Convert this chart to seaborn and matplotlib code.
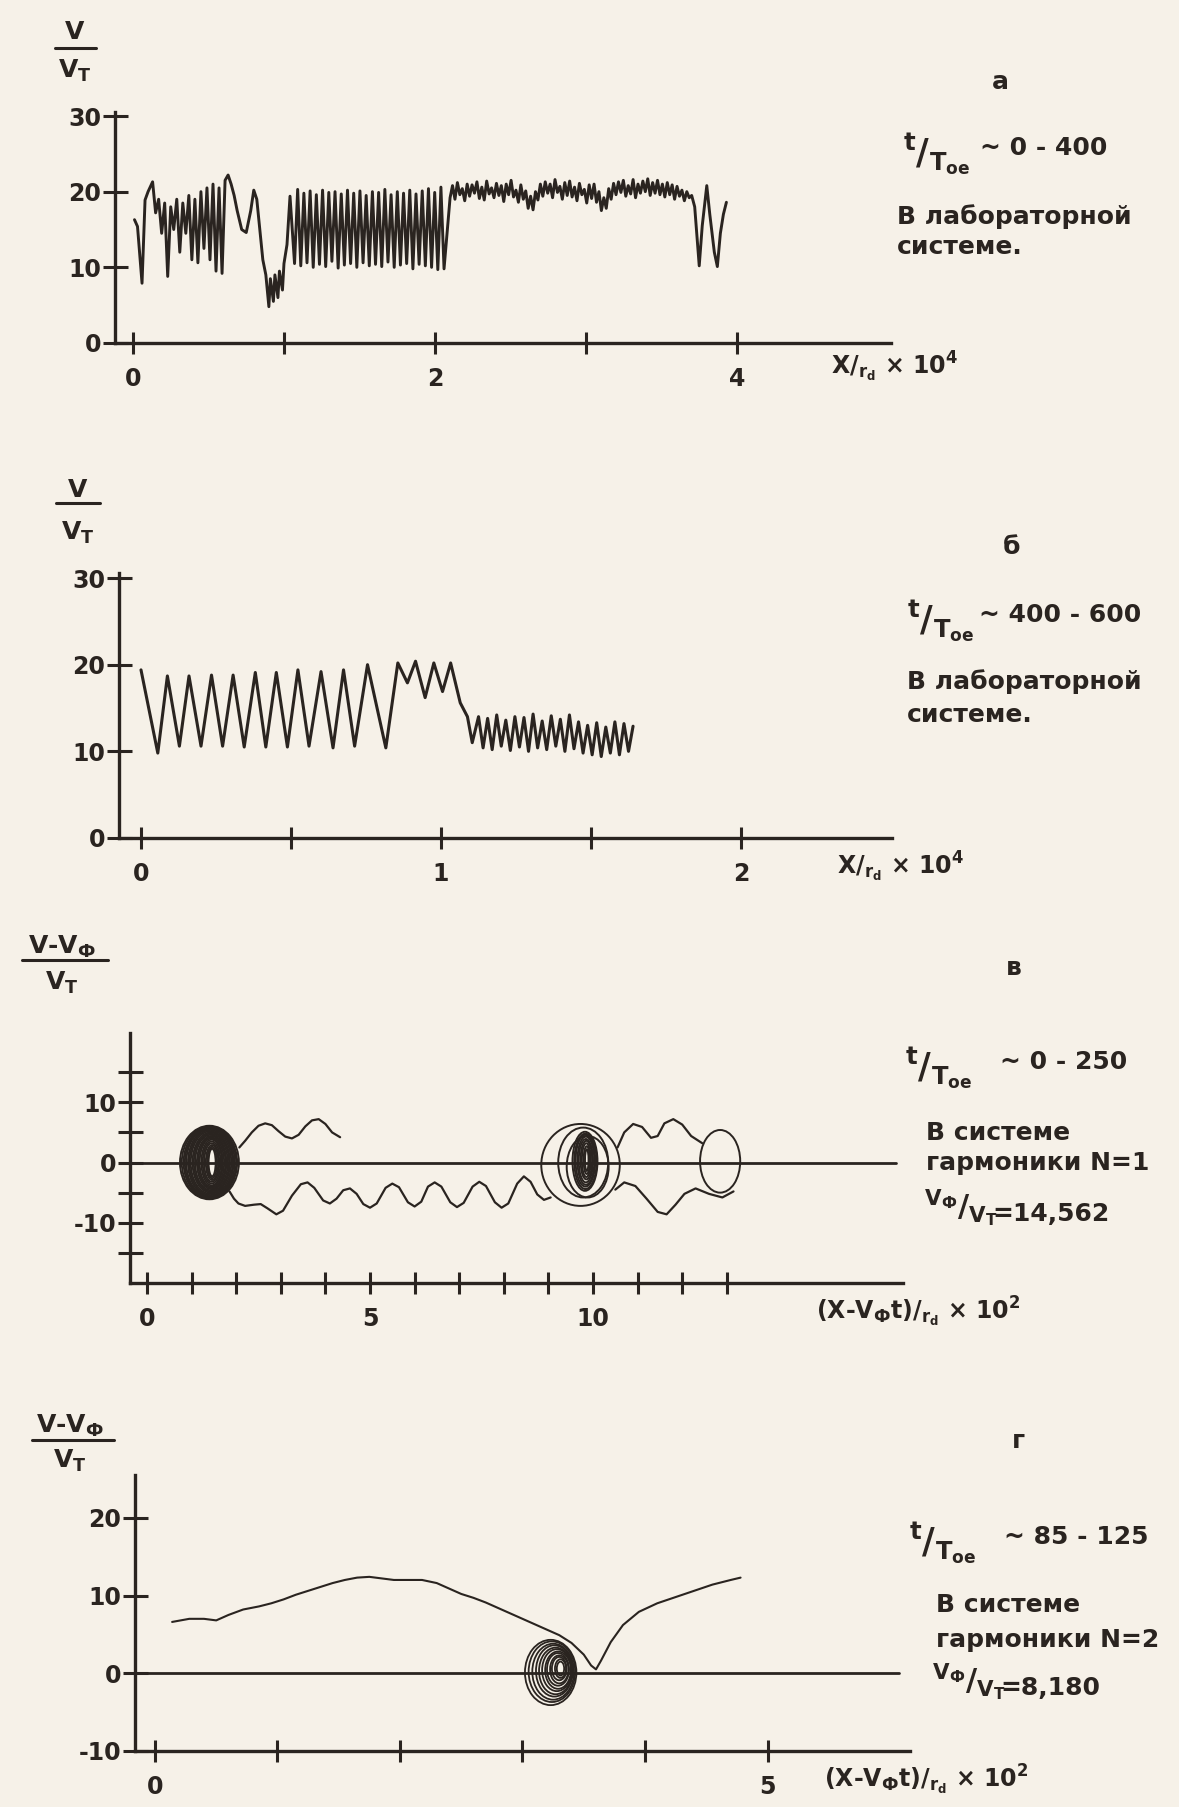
import numpy as np
import matplotlib
matplotlib.use("Agg")
import matplotlib.pyplot as plt
from matplotlib.patches import Ellipse
from matplotlib.lines import Line2D
import seaborn as sns

# ------------------------------------------------------------------
# Panel а : V/VT along X/rd (x10^4), laboratory frame, t/Toe ~ 0-400
# ------------------------------------------------------------------
a_head_x = [0.01, 0.03, 0.06, 0.08, 0.10, 0.13, 0.15, 0.17, 0.19, 0.21, 0.23, 0.25,
            0.27, 0.29, 0.31, 0.33, 0.35, 0.37, 0.39, 0.41, 0.43, 0.45, 0.47, 0.49,
            0.51, 0.53, 0.55, 0.57, 0.59, 0.61, 0.63, 0.65, 0.67, 0.69, 0.72, 0.75,
            0.78, 0.80, 0.82, 0.84, 0.86, 0.88, 0.90, 0.91, 0.93, 0.94, 0.96, 0.97,
            0.99, 1.00, 1.02, 1.04]
a_head_y = [16.3, 15.4, 7.9, 18.9, 20.0, 21.3, 17.2, 19.0, 14.5, 18.5, 8.8, 18.0,
            15.0, 19.0, 12.0, 18.5, 14.5, 19.5, 11.0, 19.0, 10.6, 20.0, 12.5, 20.5,
            11.0, 21.0, 9.5, 20.5, 9.2, 21.5, 22.2, 21.0, 19.5, 17.5, 15.0, 14.6,
            17.5, 20.2, 19.0, 15.0, 11.0, 9.0, 4.8, 8.5, 5.5, 9.0, 6.0, 9.5,
            7.0, 10.5, 13.0, 19.4]
# regular oscillation stretch, evenly sampled between 1.07 and 2.06
a_mid_y = [10.5, 20.3, 10.2, 19.8, 10.6, 20.1, 10.0, 19.6, 10.4, 20.2, 10.1, 19.9,
           10.8, 20.0, 9.9, 19.7, 10.3, 20.2, 10.5, 19.8, 10.0, 20.1, 10.6, 19.5,
           10.2, 20.0, 10.4, 19.9, 10.1, 20.3, 10.7, 19.6, 10.0, 20.0, 10.3, 19.8,
           10.5, 20.2, 9.8, 19.7, 10.4, 20.1, 10.2, 20.4, 10.0, 19.9, 9.7, 20.6, 9.8]
# noisy plateau, evenly sampled between 2.10 and 3.70
a_band_y = [19.2, 20.8, 19.0, 21.2, 19.6, 20.4, 18.8, 21.0, 19.4, 20.9,
            19.8, 21.3, 19.1, 20.6, 18.9, 21.4, 19.7, 20.5, 19.2, 21.1,
            19.5, 20.8, 18.7, 21.0, 19.6, 21.5, 19.3, 20.2, 18.6, 20.9,
            19.0, 20.1, 17.8, 19.4, 17.6, 20.0, 18.9, 21.0, 19.4, 21.3,
            19.8, 21.0, 19.2, 21.6, 19.9, 20.7, 19.0, 21.2, 19.5, 21.4,
            19.3, 20.6, 18.8, 21.1, 19.6, 20.3, 18.5, 20.9, 19.1, 21.0,
            18.6, 20.0, 17.5, 19.2, 17.8, 20.4, 19.0, 21.1, 19.6, 21.3,
            19.9, 21.5, 19.4, 20.8, 19.7, 21.6, 19.2, 21.0, 19.8, 21.4,
            20.0, 21.7, 19.5, 21.2, 19.8, 21.5, 19.6, 21.0, 19.3, 21.2,
            19.6, 20.9, 19.0, 20.7, 19.4, 20.2, 18.8, 20.0, 19.2, 19.5]
a_tail_x = [3.72, 3.75, 3.77, 3.80, 3.82, 3.85, 3.87, 3.89, 3.91, 3.93]
a_tail_y = [18.0, 10.2, 15.5, 20.8, 17.0, 12.0, 10.1, 14.5, 17.0, 18.6]

# ------------------------------------------------------------------
# Panel б : V/VT along X/rd (x10^4), t/Toe ~ 400-600
# ------------------------------------------------------------------
b_wave_x = [0.0, 0.056, 0.088, 0.128, 0.16, 0.2, 0.235, 0.272, 0.307, 0.344, 0.381,
            0.416, 0.451, 0.488, 0.523, 0.56, 0.6, 0.64, 0.675, 0.712, 0.755, 0.816,
            0.856, 0.888, 0.915, 0.947, 0.976, 1.005, 1.032, 1.064, 1.088, 1.104]
b_wave_y = [19.4, 9.8, 18.7, 10.6, 18.7, 10.6, 18.8, 10.6, 18.8, 10.5, 19.1,
            10.5, 19.1, 10.5, 19.4, 10.6, 19.2, 10.4, 19.4, 10.6, 20.0, 10.4,
            20.2, 17.9, 20.4, 16.2, 20.2, 16.9, 20.2, 15.6, 14.0, 11.0]
# small ripples, evenly sampled between 1.125 and 1.64
b_tail_y = [14.0, 10.4, 13.8, 10.2, 14.2, 10.6, 13.6, 10.1, 14.0, 10.5, 13.9, 10.0,
            14.3, 10.4, 13.5, 10.2, 14.1, 10.6, 13.7, 10.0, 14.2, 10.3, 13.4, 9.8,
            13.0, 9.6, 13.3, 9.4, 12.8, 9.8, 13.4, 9.6, 13.2, 10.0, 12.9]

# ------------------------------------------------------------------
# Panel в : phase plane of harmonic N=1, t/Toe ~ 0-250
# ------------------------------------------------------------------
v_up_x = [2.07, 2.2, 2.35, 2.5, 2.65, 2.8, 2.95, 3.1, 3.25, 3.4, 3.55, 3.7, 3.85, 4.0, 4.15, 4.33]
v_up_y = [2.5, 3.6, 5.0, 6.1, 6.5, 6.2, 5.2, 4.3, 4.0, 4.6, 6.0, 7.0, 7.2, 6.4, 5.0, 4.2]
v_low_x = [1.85, 1.95, 2.05, 2.2, 2.4, 2.55, 2.7, 2.9, 3.05, 3.25, 3.45, 3.6, 3.75, 3.95,
           4.1, 4.25, 4.4, 4.55, 4.7, 4.85, 5.0, 5.15, 5.35, 5.5, 5.65, 5.85, 6.0, 6.15,
           6.3, 6.45, 6.6, 6.8, 6.95, 7.1, 7.3, 7.45, 7.6, 7.8, 7.95, 8.1, 8.3, 8.45,
           8.6, 8.75, 8.9, 9.05]
v_low_y = [-4.8, -6.0, -6.8, -7.2, -7.0, -6.9, -7.6, -8.6, -8.0, -5.5, -3.6, -3.3, -4.2, -6.3,
           -6.8, -6.0, -4.6, -4.3, -5.2, -6.9, -7.5, -6.8, -4.2, -3.5, -4.1, -6.6, -7.3, -6.5,
           -4.0, -3.3, -4.0, -6.6, -7.4, -6.7, -4.0, -3.2, -3.9, -6.6, -7.5, -6.8, -3.5, -2.3,
           -3.2, -5.3, -6.2, -5.8]
v_ur_x = [10.55, 10.7, 10.9, 11.1, 11.3, 11.45, 11.6, 11.8, 12.0, 12.2, 12.45]
v_ur_y = [2.5, 5.0, 6.4, 5.9, 4.1, 4.4, 6.5, 7.2, 6.3, 4.4, 3.2]
v_lr_x = [10.5, 10.7, 10.95, 11.2, 11.45, 11.65, 11.85, 12.05, 12.3, 12.6, 12.9, 13.15]
v_lr_y = [-4.5, -3.3, -3.9, -6.0, -8.2, -8.6, -7.0, -5.2, -4.3, -5.2, -5.8, -4.8]
# closed (trapped) orbits: centre, half-width, half-height
v_orb_x = [1.46, 1.46, 1.46, 1.45, 1.45, 1.45, 1.44, 1.44, 1.44, 1.43, 1.43, 1.43, 1.42,
           1.42, 1.42, 1.41, 1.41, 1.41, 1.40, 1.40,
           9.86, 9.86, 9.85, 9.85, 9.84, 9.84, 9.83, 9.83, 9.82,
           9.88, 9.78, 9.72, 12.85]
v_orb_y = [0.0] * 20 + [0.4, 0.4, 0.4, 0.4, 0.3, 0.3, 0.3, 0.2, 0.2, -0.7, 0.0, -0.4, 0.2]
v_orb_w = [0.08, 0.11, 0.14, 0.17, 0.20, 0.23, 0.26, 0.29, 0.32, 0.35, 0.38, 0.41, 0.44,
           0.47, 0.50, 0.53, 0.56, 0.59, 0.62, 0.66,
           0.04, 0.07, 0.10, 0.13, 0.16, 0.19, 0.22, 0.25, 0.28,
           0.47, 0.56, 0.88, 0.45]
v_orb_h = [2.3, 2.6, 2.9, 3.2, 3.5, 3.8, 4.0, 4.2, 4.4, 4.6, 4.8, 5.0, 5.2,
           5.4, 5.6, 5.7, 5.8, 5.9, 6.0, 6.1,
           1.8, 2.3, 2.8, 3.2, 3.6, 4.0, 4.3, 4.6, 4.9,
           5.1, 5.8, 6.8, 5.2]

# ------------------------------------------------------------------
# Panel г : phase plane of harmonic N=2, t/Toe ~ 85-125
# ------------------------------------------------------------------
g_x = [0.14, 0.28, 0.40, 0.50, 0.60, 0.72, 0.85, 0.95, 1.05, 1.15, 1.25, 1.35, 1.45, 1.55,
       1.65, 1.75, 1.85, 1.95, 2.05, 2.18, 2.3, 2.4, 2.5, 2.6, 2.7, 2.8, 2.9, 3.0, 3.1,
       3.2, 3.3, 3.4, 3.5, 3.56, 3.6, 3.64, 3.72, 3.82, 3.95, 4.1, 4.25, 4.4, 4.55, 4.7, 4.78]
g_y = [6.6, 7.0, 7.0, 6.8, 7.5, 8.2, 8.6, 9.0, 9.5, 10.1, 10.6, 11.1, 11.6, 12.0,
       12.3, 12.4, 12.2, 12.0, 12.0, 12.0, 11.6, 10.9, 10.2, 9.7, 9.1, 8.4, 7.7, 7.0, 6.3,
       5.6, 4.9, 3.9, 2.4, 1.0, 0.5, 1.6, 4.0, 6.2, 7.9, 9.0, 9.8, 10.6, 11.4, 12.0, 12.3]
g_orb_x = [3.31, 3.31, 3.30, 3.30, 3.29, 3.29, 3.28, 3.27, 3.26, 3.25, 3.24, 3.23]
g_orb_y = [0.6, 0.6, 0.6, 0.5, 0.5, 0.4, 0.4, 0.3, 0.3, 0.2, 0.2, 0.1]
g_orb_w = [0.03, 0.045, 0.06, 0.075, 0.09, 0.105, 0.12, 0.135, 0.15, 0.17, 0.19, 0.21]
g_orb_h = [0.9, 1.2, 1.5, 1.8, 2.1, 2.4, 2.7, 3.0, 3.3, 3.6, 3.9, 4.2]

# ------------------------------------------------------------------
# style
# ------------------------------------------------------------------
PAPER = "#f6f1e8"
INK = "#2a2420"
W, H = 1179, 1807

sns.set_theme(style="white")
plt.rcParams["font.family"] = ["DejaVu Sans"]
plt.rcParams["font.weight"] = "bold"
plt.rcParams["mathtext.fontset"] = "custom"
plt.rcParams["mathtext.rm"] = "DejaVu Sans:bold"
plt.rcParams["mathtext.it"] = "DejaVu Sans:bold"
plt.rcParams["mathtext.bf"] = "DejaVu Sans:bold"
plt.rcParams["mathtext.default"] = "bf"
plt.rcParams["text.color"] = INK

fig = plt.figure(figsize=(W / 100, H / 100), dpi=100, facecolor=PAPER)

def fx(px):
    return px / W

def fy(py):
    return 1 - py / H

def txt(x, y, s, size=18, ha="left", va="center"):
    fig.text(fx(x), fy(y), s, size=size, ha=ha, va=va, color=INK, fontweight="bold")

def make_axes(left, right, top, bottom, xlim, ylim, xticks, xlabels, yticks, ylabels):
    ax = fig.add_axes([fx(left), fy(bottom), (right - left) / W, (bottom - top) / H])
    ax.set_facecolor("none")
    ax.set_xlim(xlim)
    ax.set_ylim(ylim)
    for side in ("top", "right"):
        ax.spines[side].set_visible(False)
    for side in ("left", "bottom"):
        ax.spines[side].set_color(INK)
        ax.spines[side].set_linewidth(2.4)
    ax.set_xticks(xticks)
    ax.set_xticklabels(xlabels)
    ax.set_yticks(yticks)
    ax.set_yticklabels(ylabels)
    ax.tick_params(axis="x", which="major", bottom=True, direction="inout", length=16,
                   width=2.2, colors=INK, labelsize=17, pad=9)
    ax.tick_params(axis="y", which="major", left=True, direction="inout", length=18,
                   width=2.2, colors=INK, labelsize=17, pad=1)
    for lab in ax.get_xticklabels() + ax.get_yticklabels():
        lab.set_fontweight("bold")
    return ax

def fraction(xc, y_num, y_bar, y_den, x0, x1, num, den):
    txt(xc, y_num, num, size=18, ha="center")
    fig.add_artist(Line2D([fx(x0), fx(x1)], [fy(y_bar), fy(y_bar)], color=INK, lw=2.2))
    txt(xc, y_den, den, size=18, ha="center")

def time_label(x0, yc, rest, dx_rest):
    txt(x0, yc + 6, r"${}^{t}/_{T_{oe}}$", size=25)
    txt(x0 + dx_rest, yc, rest, size=18)

def phase_label(x0, yc, rest, dx_rest):
    txt(x0, yc - 2, r"${}^{V_{Ф}}/_{V_{T}}$", size=22)
    txt(x0 + dx_rest, yc + 4, rest, size=18)

def draw_orbits(ax, xs, ys, ws, hs, lw):
    for cx, cy, w, h in zip(xs, ys, ws, hs):
        ax.add_patch(Ellipse((cx, cy), 2 * w, 2 * h, fill=False, edgecolor=INK, lw=lw))

def clear_labels(ax):
    ax.set_xlabel("")
    ax.set_ylabel("")

# ------------------------------------------------------------------
# panel а
# ------------------------------------------------------------------
ax_a = make_axes(115, 891, 112, 343, (-0.119, 5.02), (0, 30.53),
                 [0, 1, 2, 3, 4], ["0", "", "2", "", "4"],
                 [0, 10, 20, 30], ["0", "10", "20", "30"])
a_x = np.concatenate([a_head_x, np.linspace(1.07, 2.06, len(a_mid_y)),
                      np.linspace(2.10, 3.70, len(a_band_y)), a_tail_x])
a_y = np.concatenate([a_head_y, a_mid_y, a_band_y, a_tail_y])
sns.lineplot(x=a_x, y=a_y, sort=False, estimator=None, color=INK, lw=2.1, ax=ax_a)
clear_labels(ax_a)

fraction(75, 32, 48, 71, 55, 96, "V", r"V$_{T}$")
txt(1000, 82, "а", size=18, ha="center")
time_label(903, 148, "~ 0 - 400", 77)
txt(897, 217, "В лабораторной")
txt(897, 247, "системе.")
txt(831, 367, r"X/$_{r_d}$ × 10$^{4}$", size=17)

# ------------------------------------------------------------------
# panel б
# ------------------------------------------------------------------
ax_b = make_axes(119, 892, 573, 838, (-0.0733, 2.503), (0, 30.58),
                 [0, 0.5, 1, 1.5, 2], ["0", "", "1", "", "2"],
                 [0, 10, 20, 30], ["0", "10", "20", "30"])
b_x = np.concatenate([b_wave_x, np.linspace(1.125, 1.64, len(b_tail_y))])
b_y = np.concatenate([b_wave_y, b_tail_y])
sns.lineplot(x=b_x, y=b_y, sort=False, estimator=None, color=INK, lw=2.2, ax=ax_b)
clear_labels(ax_b)

fraction(78, 490, 503, 533, 56, 100, "V", r"V$_{T}$")
txt(1012, 547, "б", size=18, ha="center")
time_label(907, 615, "~ 400 - 600", 72)
txt(907, 682, "В лабораторной")
txt(907, 715, "системе.")
txt(837, 867, r"X/$_{r_d}$ × 10$^{4}$", size=17)

# ------------------------------------------------------------------
# panel в
# ------------------------------------------------------------------
ax_v = make_axes(130, 903, 1033, 1283, (-0.381, 16.95), (-20, 21.5),
                 list(range(14)), ["0", "", "", "", "", "5", "", "", "", "", "10", "", "", ""],
                 [-15, -10, -5, 0, 5, 10, 15], ["", "-10", "", "0", "", "10", ""])
ax_v.axhline(0, xmax=0.991, color=INK, lw=2.0)
draw_orbits(ax_v, v_orb_x, v_orb_y, v_orb_w, v_orb_h, lw=1.4)
for xs, ys in ((v_up_x, v_up_y), (v_low_x, v_low_y), (v_ur_x, v_ur_y), (v_lr_x, v_lr_y)):
    sns.lineplot(x=xs, y=ys, sort=False, estimator=None, color=INK, lw=1.6, ax=ax_v)
clear_labels(ax_v)

fraction(62, 947, 960, 983, 22, 108, r"V-V$_{Ф}$", r"V$_{T}$")
txt(1014, 968, "в", size=18, ha="center")
time_label(905, 1062, "~ 0 - 250", 95)
txt(926, 1133, "В системе")
txt(926, 1163, "гармоники N=1")
phase_label(924, 1210, "=14,562", 68)
txt(816, 1312, r"(X-V$_{Ф}$t)/$_{r_d}$ × 10$^{2}$", size=17)

# ------------------------------------------------------------------
# panel г
# ------------------------------------------------------------------
ax_g = make_axes(135, 910, 1475, 1751, (-0.163, 6.163), (-10, 25.5),
                 [0, 1, 2, 3, 4, 5], ["0", "", "", "", "", "5"],
                 [-10, 0, 10, 20], ["-10", "0", "10", "20"])
ax_g.axhline(0, xmax=0.986, color=INK, lw=2.0)
draw_orbits(ax_g, g_orb_x, g_orb_y, g_orb_w, g_orb_h, lw=1.3)
sns.lineplot(x=g_x, y=g_y, sort=False, estimator=None, color=INK, lw=1.5, ax=ax_g)
clear_labels(ax_g)

fraction(70, 1426, 1440, 1461, 32, 114, r"V-V$_{Ф}$", r"V$_{T}$")
txt(1018, 1441, "г", size=18, ha="center")
time_label(909, 1537, "~ 85 - 125", 95)
txt(936, 1605, "В системе")
txt(936, 1640, "гармоники N=2")
phase_label(932, 1684, "=8,180", 68)
txt(824, 1780, r"(X-V$_{Ф}$t)/$_{r_d}$ × 10$^{2}$", size=17)

fig.savefig("out.png", dpi=100, facecolor=PAPER)
